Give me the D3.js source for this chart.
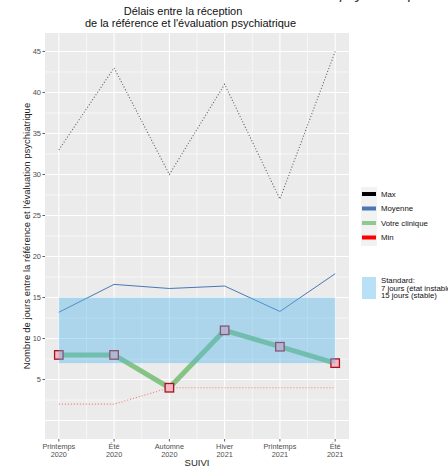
<!DOCTYPE html>
<html><head><meta charset="utf-8">
<script src="https://cdn.jsdelivr.net/npm/d3@7"></script>
<style>body{margin:0;background:#fff}svg{display:block;font-family:"Liberation Sans",Arial,sans-serif}</style>
</head><body>
<svg id="c" width="448" height="469"></svg>
<script>
const seasons = ["Printemps","Été","Automne","Hiver","Printemps","Été"];
const years = ["2020","2020","2020","2021","2021","2021"];
const maxV = [33,43,30,41,27,45];
const moyV = [13.2,16.6,16.1,16.4,13.3,17.9];
const cliniqueV = [8,8,4,11,9,7];
const minV = [2,2,4,4,4,4];
const standardLow = 7, standardHigh = 15;
const yTicks = [5,10,15,20,25,30,35,40,45];
const yGrid = [0,5,10,15,20,25,30,35,40,45];
const legendItems = ["Max","Moyenne","Votre clinique","Min"];
const legendColors = ["#000000","#4a76b5","#90c990","#ff0000"];

const svg = d3.select("#c");
const L=45,R=349,T=33,B=439;
const idx = d3.range(1, seasons.length+1);
const x = d3.scaleLinear().domain([0.75,6.25]).range([L,R]);
const y = d3.scaleLinear().domain([-2.25,47.25]).range([B,T]);

svg.append("rect").attr("x",L).attr("y",T).attr("width",R-L).attr("height",B-T).attr("fill","#ebebeb");
const g = svg.append("g");
const yMinor = d3.range(-2.5,48,5).filter(v=>v>y.domain()[0]&&v<y.domain()[1]);
g.selectAll(".ymn").data(yMinor).join("line").attr("x1",L).attr("x2",R).attr("y1",d=>y(d)).attr("y2",d=>y(d)).attr("stroke","#fff").attr("stroke-width",0.6);
const xMinor = d3.range(1.5,6,1);
g.selectAll(".xmn").data(xMinor).join("line").attr("y1",T).attr("y2",B).attr("x1",d=>x(d)).attr("x2",d=>x(d)).attr("stroke","#fff").attr("stroke-width",0.6);
g.selectAll(".ymj").data(yGrid).join("line").attr("x1",L).attr("x2",R).attr("y1",d=>y(d)).attr("y2",d=>y(d)).attr("stroke","#fff").attr("stroke-width",1.1);
g.selectAll(".xmj").data(idx).join("line").attr("y1",T).attr("y2",B).attr("x1",d=>x(d)).attr("x2",d=>x(d)).attr("stroke","#fff").attr("stroke-width",1.1);

const line = d3.line().x((d,i)=>x(i+1)).y(d=>y(d));
svg.append("path").attr("d",line(maxV)).attr("fill","none").attr("stroke","#000").attr("stroke-opacity",0.6).attr("stroke-width",1.1).attr("stroke-dasharray","1,2");
svg.append("path").attr("d",line(minV)).attr("fill","none").attr("stroke","#ff0000").attr("stroke-opacity",0.5).attr("stroke-width",1.1).attr("stroke-dasharray","1,2");
svg.append("path").attr("d",line(moyV)).attr("fill","none").attr("stroke","#4a76b5").attr("stroke-width",1);
svg.append("path").attr("d",line(cliniqueV)).attr("fill","none").attr("stroke","#86c486").attr("stroke-width",5).attr("stroke-linejoin","round");
const s=8.5;
svg.selectAll(".pt").data(cliniqueV).join("rect").attr("x",(d,i)=>x(i+1)-s/2).attr("y",d=>y(d)-s/2).attr("width",s).attr("height",s)
  .attr("fill","#f7b6c4").attr("stroke","#a3141f").attr("stroke-width",1.3);
svg.append("rect").attr("x",x(1)).attr("width",x(6)-x(1)).attr("y",y(standardHigh)).attr("height",y(standardLow)-y(standardHigh))
  .attr("fill","#56b4e9").attr("fill-opacity",0.42);

const ax = svg.append("g").attr("fill","#4d4d4d").attr("font-size",7.3);
ax.selectAll(".yt").data(yTicks).join("text").attr("x",L-4).attr("y",d=>y(d)+2.6).attr("text-anchor","end").attr("font-size",7.5).text(d=>d);
ax.selectAll(".ytk").data(yTicks).join("line").attr("x1",L-2.5).attr("x2",L).attr("y1",d=>y(d)).attr("y2",d=>y(d)).attr("stroke","#333").attr("stroke-width",0.8);
ax.selectAll(".xtk").data(idx).join("line").attr("y1",B).attr("y2",B+2.5).attr("x1",d=>x(d)).attr("x2",d=>x(d)).attr("stroke","#333").attr("stroke-width",0.8);
ax.selectAll(".xt1").data(idx).join("text").attr("x",d=>x(d)).attr("y",449.3).attr("text-anchor","middle").text(d=>seasons[d-1]);
ax.selectAll(".xt2").data(idx).join("text").attr("x",d=>x(d)).attr("y",456.8).attr("text-anchor","middle").text(d=>years[d-1]);

svg.append("text").attr("x",(L+R)/2).attr("y",466).attr("text-anchor","middle").attr("font-size",9.5).attr("fill","#222").text("SUIVI");
svg.append("text").attr("transform",`translate(30,${(T+B)/2}) rotate(-90)`).attr("text-anchor","middle").attr("font-size",9.5).attr("fill","#222")
  .text("Nombre de jours entre la référence et l'évaluation psychiatrique");

svg.append("text").attr("x",183).attr("y",15).attr("text-anchor","middle").attr("font-size",11).attr("fill","#111").text("Délais entre la réception");
svg.append("text").attr("x",190.5).attr("y",26.5).attr("text-anchor","middle").attr("font-size",11).attr("fill","#111").text("de la référence et l'évaluation psychiatrique");
svg.append("text").attr("x",340).attr("y",-1).attr("font-size",15).attr("font-style","italic").attr("fill","#333").text("psychiatrique");

const lg = svg.append("g");
lg.append("rect").attr("x",361).attr("y",187).attr("width",16).attr("height",59).attr("fill","#f2f2f2");
legendItems.forEach((t,i)=>{
  const yy = 194 + i*14.5;
  lg.append("rect").attr("x",362).attr("y",yy-2).attr("width",14).attr("height",4).attr("fill",legendColors[i]);
  lg.append("text").attr("x",381).attr("y",yy+2.8).attr("font-size",7.8).attr("fill","#111").text(t);
});
lg.append("rect").attr("x",362).attr("y",277).attr("width",14).attr("height",22).attr("fill","#56b4e9").attr("fill-opacity",0.42);
["Standard:","7 jours (état instable)","15 jours (stable)"].forEach((t,i)=>{
  lg.append("text").attr("x",381).attr("y",283+i*7.5).attr("font-size",7.8).attr("fill","#111").text(t);
});
</script>
</body></html>
